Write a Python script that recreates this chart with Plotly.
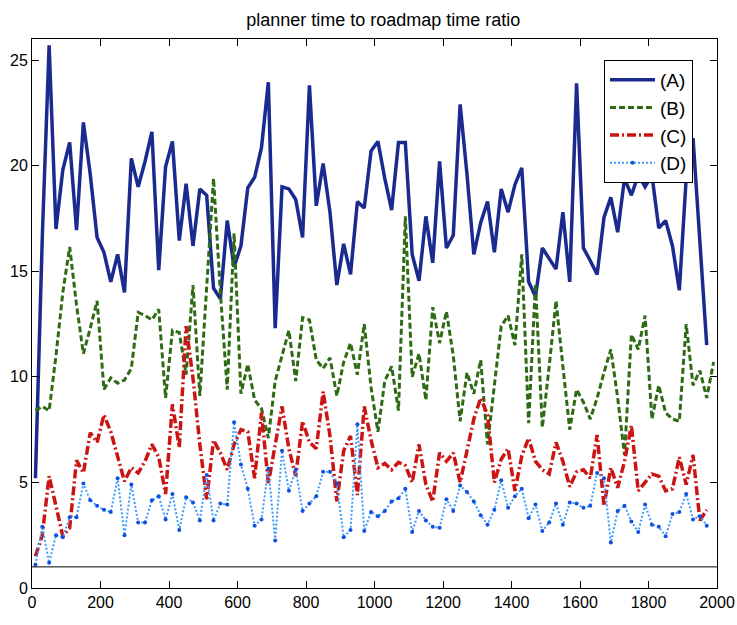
import plotly.graph_objects as go

# ---------------- data ----------------
x_acd = list(range(10, 1971, 20))   # sample positions for series A, C, D
x_b = list(range(10, 1991, 20))     # sample positions for series B

series_a = [5.2, 16.6, 25.7, 17.0, 19.8, 21.1, 16.95, 22.05, 19.6, 16.6,
            15.9, 14.5, 15.8, 14.0, 20.35, 19.0, 20.2, 21.6, 15.05, 19.95,
            21.15, 16.45, 19.15, 16.2, 18.9, 18.6, 14.2, 13.7, 17.4, 15.2,
            16.2, 18.95, 19.45, 20.85, 23.95, 12.3, 19.0, 18.9, 18.4, 16.6,
            23.8, 18.1, 20.1, 17.8, 14.35, 16.3, 14.85, 18.3, 18.0, 20.7,
            21.15, 19.4, 17.9, 21.1, 21.1, 15.8, 14.55, 17.6, 15.4, 20.2,
            16.1, 16.7, 22.9, 19.6, 15.8, 17.3, 18.3, 15.9, 18.9, 17.8,
            19.1, 19.9, 14.5, 13.8, 16.1, 15.6, 15.1, 17.8, 14.5, 23.9,
            16.1, 15.5, 14.85, 17.55, 18.5, 16.85, 19.4, 18.6, 19.55, 19.0,
            19.55, 17.05, 17.4, 16.2, 14.1, 19.4, 21.3, 16.4, 11.5]

series_b = [8.4, 8.6, 8.4, 11.0, 14.0, 16.15, 13.4, 11.1, 12.3, 13.6,
            9.4, 9.95, 9.7, 9.85, 10.4, 13.05, 12.9, 12.7, 13.2, 9.0,
            12.2, 12.1, 10.1, 14.35, 9.1, 14.5, 19.4, 14.0, 9.4, 16.8,
            9.2, 10.6, 8.9, 8.5, 7.1, 9.8, 11.0, 12.2, 9.8, 12.8,
            12.7, 10.8, 10.4, 10.9, 9.1, 10.7, 11.6, 10.1, 12.5, 9.5,
            7.4, 9.8, 10.5, 8.4, 17.6, 10.0, 11.1, 8.9, 13.3, 11.6,
            13.1, 11.0, 7.9, 10.2, 9.2, 10.8, 6.8, 9.5, 12.4, 12.9,
            11.5, 15.8, 7.8, 14.4, 7.6, 10.5, 13.6, 10.5, 7.5, 9.4,
            8.8, 8.0, 9.0, 10.2, 11.3, 9.0, 6.3, 12.0, 11.3, 12.9,
            8.0, 9.6, 8.3, 8.0, 7.9, 12.5, 9.6, 10.3, 9.0, 10.7]

series_c = [1.5, 2.5, 5.3, 3.85, 2.45, 2.85, 6.05, 5.45, 7.35, 6.9,
            8.2, 7.4, 6.15, 5.05, 5.7, 5.45, 6.0, 6.8, 6.2, 4.45,
            8.7, 6.65, 12.4, 9.95, 6.8, 4.2, 7.0, 6.4, 5.6, 6.8,
            7.5, 7.4, 5.2, 8.3, 4.95, 6.8, 8.6, 6.6, 5.3, 7.9,
            6.9, 6.6, 9.3, 7.2, 4.1, 6.5, 7.2, 4.4, 8.6, 7.0,
            5.7, 5.9, 5.6, 5.95, 5.8, 5.0, 6.8, 4.9, 4.1, 6.4,
            6.0, 6.4, 5.0, 6.5, 8.0, 9.0, 8.2, 5.0, 6.1, 6.6,
            4.6, 6.25, 7.1, 6.0, 5.6, 5.4, 6.9, 6.0, 4.8, 5.5,
            5.6, 5.2, 7.25, 3.9, 5.7, 4.75, 6.0, 7.7, 4.6, 5.0,
            5.4, 5.3, 4.6, 4.7, 6.2, 4.9, 6.3, 3.2, 3.7]

series_d = [1.1, 2.9, 1.2, 2.5, 2.4, 3.35, 3.35, 4.95, 4.15, 3.9,
            3.7, 3.6, 5.2, 2.5, 4.9, 3.1, 3.1, 4.15, 4.35, 3.25,
            4.45, 2.75, 4.3, 4.05, 3.2, 5.35, 3.2, 4.0, 3.95, 7.85,
            5.85, 4.7, 2.95, 3.25, 5.65, 2.25, 6.5, 4.6, 5.6, 3.65,
            4.0, 4.35, 5.5, 5.5, 4.95, 2.4, 2.75, 7.75, 2.7, 3.6,
            3.4, 3.65, 4.1, 4.25, 4.7, 2.65, 3.65, 3.2, 2.9, 2.85,
            4.2, 3.65, 4.85, 4.55, 4.1, 3.45, 3.0, 3.7, 5.1, 3.8,
            4.35, 4.7, 3.3, 3.95, 2.7, 3.1, 4.0, 3.0, 4.05, 4.0,
            3.8, 3.9, 5.45, 5.2, 2.15, 3.65, 3.9, 3.15, 2.65, 3.95,
            3.0, 2.9, 2.45, 3.5, 3.6, 4.45, 3.25, 3.4, 2.95]

names = ["(A)", "(B)", "(C)", "(D)"]
ref_level = 1.0
title_text = "planner time to roadmap time ratio"
x_ticks = [0, 200, 400, 600, 800, 1000, 1200, 1400, 1600, 1800, 2000]
y_ticks = [0, 5, 10, 15, 20, 25]

# ---------------- figure ----------------
FONT = "Liberation Sans, Arial, Helvetica, sans-serif"

fig = go.Figure()
fig.add_trace(go.Scatter(x=x_acd, y=series_a, name=names[0], mode="lines",
                         line=dict(color="#1a2a8f", width=3.5)))
fig.add_trace(go.Scatter(x=x_b, y=series_b, name=names[1], mode="lines",
                         line=dict(color="#2f6a14", width=3, dash="6px,3px")))
fig.add_trace(go.Scatter(x=x_acd, y=series_c, name=names[2], mode="lines",
                         line=dict(color="#cc1414", width=3.5, dash="9px,3px,2px,3px")))
fig.add_trace(go.Scatter(x=x_acd, y=series_d, name=names[3], mode="lines+markers",
                         line=dict(color="#3d9bff", width=2, dash="2px,2px"),
                         marker=dict(color="#1050e0", size=4)))

fig.add_hline(y=ref_level, line=dict(color="black", width=1))

fig.update_layout(
    width=737, height=625,
    margin=dict(l=32, r=20, t=39, b=37),
    paper_bgcolor="white", plot_bgcolor="white",
    font=dict(family=FONT, size=16, color="black"),
    title=dict(text=title_text, x=0.52, xref="container", y=0.968,
               yref="container", xanchor="center", yanchor="middle",
               font=dict(family=FONT, size=18, color="black")),
    legend=dict(x=0.835, y=0.962, xanchor="left", yanchor="top",
                bgcolor="white", bordercolor="black", borderwidth=1,
                font=dict(family=FONT, size=19, color="black"),
                itemwidth=45, tracegroupgap=0),
    showlegend=True,
)
fig.update_xaxes(range=[0, 2000], tickvals=x_ticks, ticks="inside", ticklen=7,
                 showgrid=False, zeroline=False, showline=True, linecolor="black",
                 linewidth=1, mirror="allticks", tickcolor="black",
                 ticklabeloverflow="allow",
                 tickfont=dict(family=FONT, size=16), automargin=False)
fig.update_yaxes(range=[0, 26], tickvals=y_ticks, ticks="inside", ticklen=7,
                 showgrid=False, zeroline=False, showline=True, linecolor="black",
                 linewidth=1, mirror="allticks", tickcolor="black",
                 ticklabeloverflow="allow",
                 tickfont=dict(family=FONT, size=16), automargin=False)

fig.write_html("out.html")
